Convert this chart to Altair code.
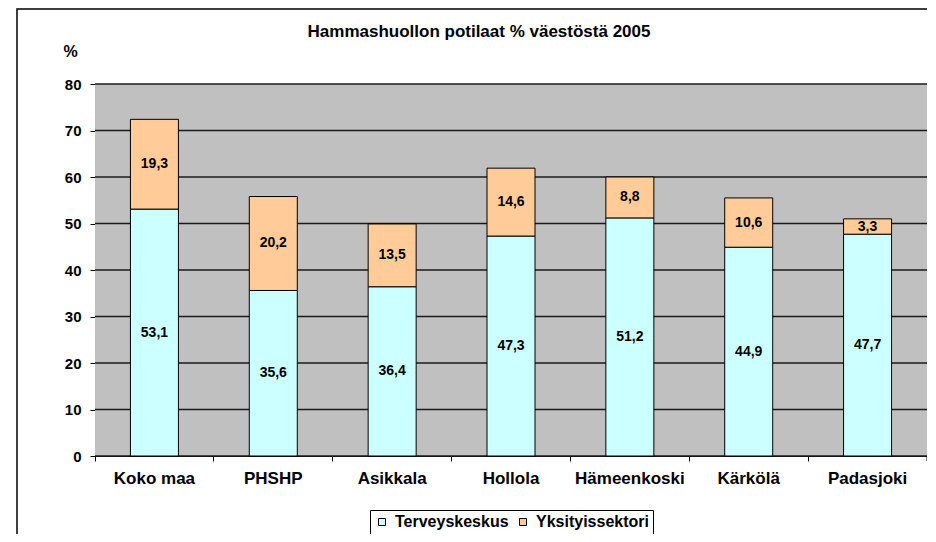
import altair as alt
import pandas as pd

categories = ["Koko maa", "PHSHP", "Asikkala", "Hollola", "Hämeenkoski", "Kärkölä", "Padasjoki"]
terveyskeskus = [53.1, 35.6, 36.4, 47.3, 51.2, 44.9, 47.7]
yksityissektori = [19.3, 20.2, 13.5, 14.6, 8.8, 10.6, 3.3]
series = ["Terveyskeskus", "Yksityissektori"]
colors = ["#CCFFFF", "#FFCC99"]
y_ticks = [0, 10, 20, 30, 40, 50, 60, 70, 80]
title_text = "Hammashuollon potilaat % väestöstä 2005"

rows = []
for c, t, p in zip(categories, terveyskeskus, yksityissektori):
    rows.append({"cat": c, "series": series[0], "order": 0, "v": t})
    rows.append({"cat": c, "series": series[1], "order": 1, "v": p})
df = pd.DataFrame(rows)
df["label"] = df["v"].map(lambda v: f"{v:.1f}".replace(".", ","))
grid_df = pd.DataFrame({"t": y_ticks})

FONT = "Liberation Sans"
W, H = 832, 372

x_axis = alt.Axis(
    title=None, bandPosition=0, tickSize=5, labelPadding=9,
    labelFont=FONT, labelFontSize=17, labelFontWeight="bold", labelColor="black",
    domainColor="black", tickColor="black", grid=False, labelAngle=0,
)
x_scale = alt.Scale(paddingInner=0, paddingOuter=0)
y_scale = alt.Scale(domain=[0, 80], nice=False)
y_axis = alt.Axis(
    values=y_ticks, title="%", titleAngle=0, titleX=-25, titleY=-28,
    titleAlign="center", titleBaseline="alphabetic", titleFont=FONT,
    titleFontSize=16, titleFontWeight="bold", titleColor="black",
    labelFont=FONT, labelFontSize=15, labelFontWeight="bold", labelColor="black",
    labelPadding=9, tickSize=5, tickColor="black", domainColor="black",
    grid=False,
)

deco = alt.Data(values=[{}])

plot_bg = alt.Chart(deco).mark_rect(color="#C0C0C0").encode(
    x=alt.value(0), x2=alt.value(W), y=alt.value(0), y2=alt.value(H)
)

gridlines = alt.Chart(grid_df).mark_rule(color="#1a1a1a", strokeWidth=1.5).encode(
    x=alt.value(0), x2=alt.value(W),
    y=alt.Y("t:Q", scale=y_scale, axis=y_axis),
)

base = alt.Chart(df)

bars = base.mark_bar(size=48, stroke="black", strokeWidth=1).encode(
    x=alt.X("cat:N", sort=categories, scale=x_scale, axis=x_axis),
    y=alt.Y("v:Q", stack="zero", scale=y_scale, axis=y_axis),
    color=alt.Color(
        "series:N",
        scale=alt.Scale(domain=series, range=colors),
        legend=alt.Legend(
            title=None, orient="none", legendX=275, legendY=426,
            direction="horizontal", symbolType="square", symbolSize=49,
            symbolStrokeColor="black", symbolStrokeWidth=1, symbolOpacity=1,
            labelFont=FONT, labelFontSize=16, labelFontWeight="bold",
            labelColor="black", fillColor="white", strokeColor="black",
            padding=4, columnPadding=6, labelOffset=5,
        ),
    ),
    order=alt.Order("order:Q"),
)

labels = base.transform_stack(
    stack="v", groupby=["cat"], as_=["y0", "y1"], sort=[alt.SortField("order")]
).transform_calculate(
    mid="(datum.y0 + datum.y1) / 2"
).mark_text(font=FONT, fontSize=14, fontWeight="bold", color="black").encode(
    x=alt.X("cat:N", sort=categories, scale=x_scale, axis=x_axis),
    y=alt.Y("mid:Q", scale=y_scale, axis=y_axis),
    text="label:N",
)

border = alt.Chart(deco).mark_rect(
    fill="transparent", stroke="black", strokeWidth=1.5
).encode(
    x=alt.value(-78), x2=alt.value(W + 100), y=alt.value(-75), y2=alt.value(H + 100)
)
end_tick = alt.Chart(deco).mark_rule(color="black").encode(
    x=alt.value(W), y=alt.value(H), y2=alt.value(H + 5)
)
title = alt.Chart(deco).mark_text(
    text=title_text, font=FONT, fontSize=17, fontWeight="bold", color="black",
    align="center", baseline="alphabetic",
).encode(x=alt.value(384), y=alt.value(-47))

chart = alt.layer(plot_bg, gridlines, bars, labels, end_tick, title, border).properties(
    width=W,
    height=H,
    padding={"left": 87, "top": 76, "right": 0, "bottom": 78},
    autosize=alt.AutoSizeParams(type="none"),
    background="white",
).configure_view(
    stroke="#808080", strokeWidth=1
)

chart.save("out.html", embed_options={"renderer": "svg", "actions": False})
